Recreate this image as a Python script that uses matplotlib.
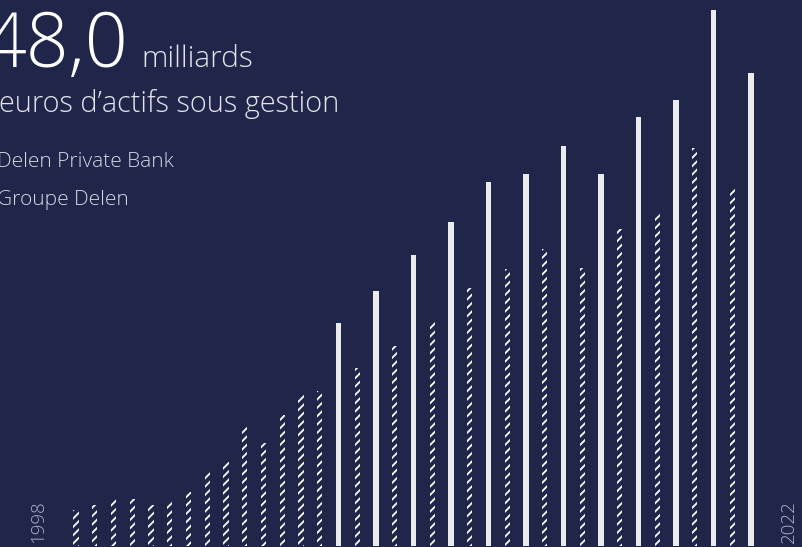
import matplotlib
matplotlib.use('Agg')
import matplotlib.pyplot as plt

# Delen: actifs sous gestion (milliards EUR)
years = list(range(1998, 2023))
private_bank = [3.2, 3.7, 4.2, 4.2, 3.7, 4.0, 4.8, 6.6, 7.5, 10.7, 9.2, 11.7, 13.5,
                13.9, 15.9, 17.9, 20.1, 23.1, 24.8, 26.6, 24.9, 28.4, 29.8, 35.6, 32.1]
groupe = [None] * 13 + [20.0, 22.8, 26.1, 29.0, 32.6, 33.3, 35.8, 33.3, 38.4, 39.9, 48.0, 42.4]

BG = '#1f2649'
W, H = 803, 547

plt.rcParams['hatch.linewidth'] = 1.3

fig = plt.figure(figsize=(W / 100, H / 100), dpi=100, facecolor=BG)
ax = fig.add_axes([0, 0, 1, 1])
ax.set_facecolor(BG)
ax.set_axis_off()

# bars are laid out one after another, a year with two series takes two slots
x_pb, x_gr, v_gr = [], [], []
slot = 0
for y, pb, gr in zip(years, private_bank, groupe):
    x_pb.append(slot)
    slot += 1
    if gr is not None:
        x_gr.append(slot)
        v_gr.append(gr)
        slot += 1

bw = 0.27
ax.bar(x_pb, private_bank, width=bw, color='none', edgecolor='white',
       linewidth=0, hatch='////')
ax.bar(x_gr, v_gr, width=bw, color='#ebebeb', linewidth=0)

# slot 0 at 76 px, 18.75 px per slot
px = 18.75
ax.set_xlim(-76 / px, (W - 76) / px)
vpp = 48.0 / 536
ax.set_ylim(-1 * vpp, 546 * vpp)

FONT = 'Open Sans'
lab_kw = dict(rotation=90, ha='center', va='bottom', fontsize=13.5,
              color='#adb3ca', family=FONT, fontweight='light')
ax.text(x_pb[0] - 2, 3 * vpp, str(years[0]), **lab_kw)
ax.text(slot - 1 + 2, 3 * vpp, str(years[-1]), **lab_kw)

def fx(p):
    return p / W

def fy(p):
    return 1 - p / H

txt = dict(family=FONT, fontweight='light')
fig.text(fx(128), fy(67), '48,0', ha='right', va='baseline', fontsize=54,
         color='white', **txt)
fig.text(fx(141), fy(67), 'milliards', ha='left', va='baseline', fontsize=21.5,
         color='#e4e5ec', **txt)
fig.text(fx(-1), fy(112), 'euros d\u2019actifs sous gestion', ha='left', va='baseline',
         fontsize=20.8, color='#e4e5ec', **txt)
fig.text(fx(-3), fy(167), 'Delen Private Bank', ha='left', va='baseline',
         fontsize=15, color='#d6d8e2', **txt)
fig.text(fx(-3), fy(205), 'Groupe Delen', ha='left', va='baseline',
         fontsize=15, color='#d6d8e2', **txt)

fig.savefig('out.png', dpi=100, facecolor=BG)
